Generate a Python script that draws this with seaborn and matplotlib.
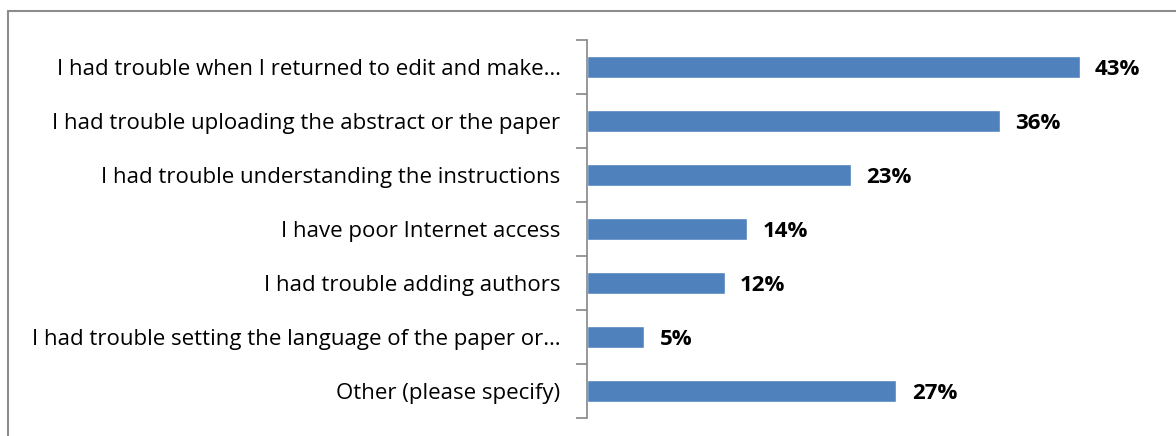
import matplotlib
matplotlib.use("Agg")
import matplotlib.pyplot as plt
import matplotlib.lines as mlines
import numpy as np
import pandas as pd
import seaborn as sns

categories = [
    "I had trouble when I returned to edit and make\u2026",
    "I had trouble uploading the abstract or the paper",
    "I had trouble understanding the instructions",
    "I have poor Internet access",
    "I had trouble adding authors",
    "I had trouble setting the language of the paper or\u2026",
    "Other (please specify)",
]
values = [43, 36, 23, 14, 12, 5, 27]
value_labels = ["43%", "36%", "23%", "14%", "12%", "5%", "27%"]

df = pd.DataFrame({"Category": categories, "Percent": values})

sns.set_theme(style="white")
plt.rcParams['font.family'] = ['Open Sans', 'DejaVu Sans']

fig = plt.figure(figsize=(11.76, 4.36), dpi=100)
ax = fig.add_axes([587 / 1176, 1 - 418 / 436, (1160 - 587) / 1176, 378 / 436])

sns.barplot(data=df, y="Category", x="Percent", color="#4F81BD",
            width=0.39, orient="h", ax=ax, saturation=1)

ax.set_xlim(0, 50)
ax.set_ylim(len(categories) - 0.5, -0.5)
ax.set_xlabel("")
ax.set_ylabel("")
ax.set_xticks([])

for s in ["top", "right", "bottom"]:
    ax.spines[s].set_visible(False)
ax.spines["left"].set_color("#868686")
ax.spines["left"].set_linewidth(1.2)

# category labels without tick marks; tick marks sit between categories
ax.tick_params(axis="y", which="major", length=0, pad=19, labelsize=16,
               labelcolor="black")
ax.set_yticks(np.arange(-0.5, len(categories)), minor=True)
ax.tick_params(axis="y", which="minor", length=8, width=1.2, color="#868686",
               direction="out", left=True)

for i, (v, lab) in enumerate(zip(values, value_labels)):
    ax.annotate(lab, (v, i), xytext=(11, -1.5), textcoords="offset points",
                va="center", ha="left", fontsize=16, fontweight="bold",
                color="black")

# chart frame (top and left edges visible)
fig.add_artist(mlines.Line2D([8 / 1176, 1], [1 - 11 / 436, 1 - 11 / 436],
                             transform=fig.transFigure, color="#8c8c8c", lw=1.5))
fig.add_artist(mlines.Line2D([8 / 1176, 8 / 1176], [0, 1 - 11 / 436],
                             transform=fig.transFigure, color="#8c8c8c", lw=1.5))

fig.savefig("out.png", dpi=100, facecolor="white")
